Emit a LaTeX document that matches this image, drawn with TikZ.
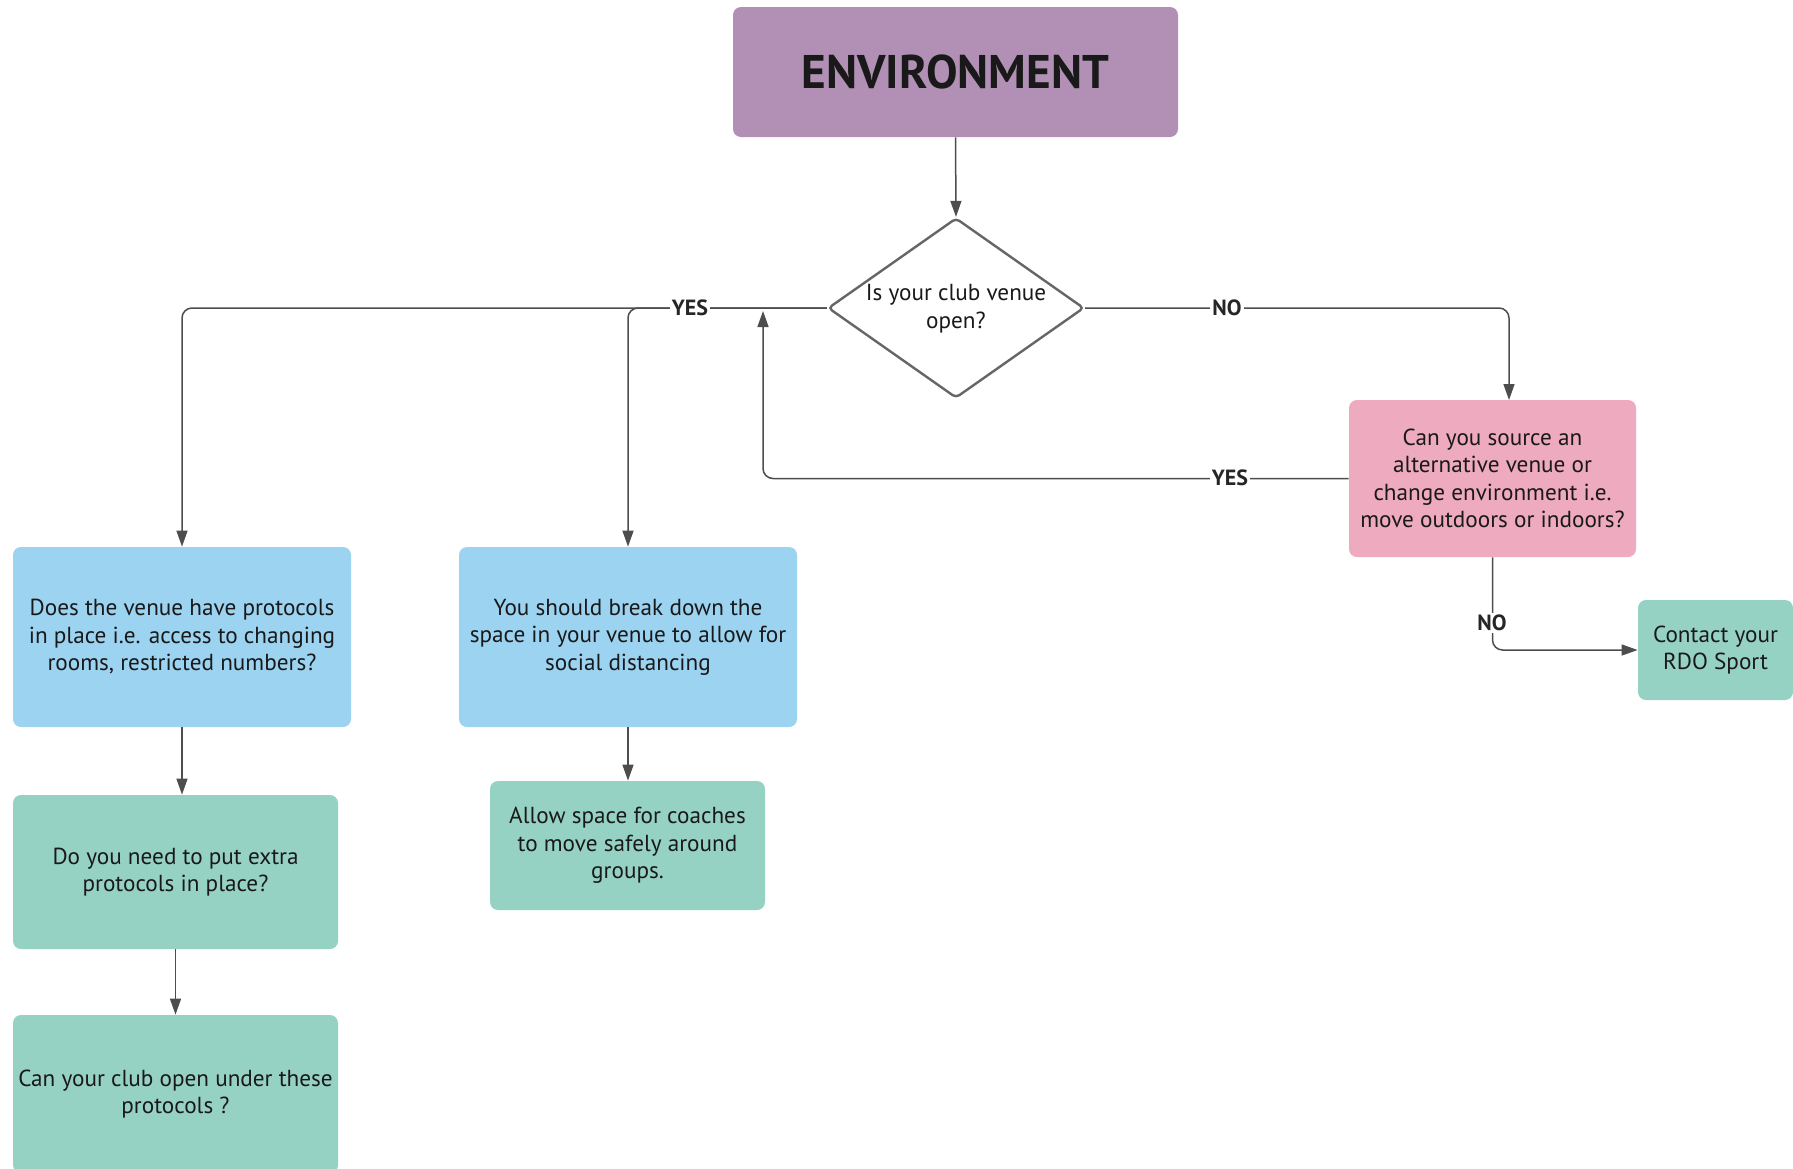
\documentclass[tikz,border=0pt]{standalone}
\usepackage{fontspec}
\setmainfont{PT Sans}
\usetikzlibrary{arrows.meta,shapes.geometric}
\definecolor{envpurple}{HTML}{B290B6}
\definecolor{qblue}{HTML}{9BD3F1}
\definecolor{qgreen}{HTML}{96D2C3}
\definecolor{qpink}{HTML}{EEAABE}
\definecolor{linegray}{HTML}{4D4D4D}
\definecolor{diagray}{HTML}{666666}
\begin{document}
\begin{tikzpicture}[x=0.5pt,y=-0.5pt,
  box/.style={rounded corners=4pt, inner sep=0pt, align=center, text=black!90,
    font=\fontsize{11.6}{13.75}\selectfont},
  conn/.style={draw=linegray, line width=0.75pt, rounded corners=5pt},
  arr/.style={-{Triangle[length=8pt,width=5.5pt]}},
  lab/.style={fill=white, inner sep=1pt, font=\bfseries\fontsize{11}{13}\selectfont, text=black!85}
]
\useasboundingbox (0,0) rectangle (1793,1168);
\fill[white] (0,0) rectangle (1793,1168);

% nodes
\node[box, fill=envpurple, minimum width=222.5pt, minimum height=65pt,
      font=\bfseries\fontsize{23.6}{28}\selectfont] (env) at (955.5,72) {ENVIRONMENT};
\node[draw=diagray, line width=1.2pt, shape=diamond, rounded corners=2pt, inner sep=0pt,
      minimum width=128pt, minimum height=90pt, aspect=1.42] (dia) at (956,308) {};
\node[box] (diatext) at (956,308.5) {Is your club venue\\open?};
\node[box, fill=qblue, minimum width=169pt, minimum height=90pt] (b1) at (182,637)
  {Does the venue have protocols\\in place i.e. access to changing\\rooms, restricted numbers?};
\node[box, fill=qblue, minimum width=169pt, minimum height=90pt] (b2) at (628,637)
  {You should break down the\\space in your venue to allow for\\social distancing};
\node[box, fill=qgreen, minimum width=162.5pt, minimum height=77pt] (g2) at (175.5,872)
  {Do you need to put extra\\protocols in place?};
\node[box, fill=qgreen, minimum width=162.5pt, minimum height=79pt] (g3) at (175.5,1094)
  {Can your club open under these\\protocols ?};
\node[box, fill=qgreen, minimum width=137.5pt, minimum height=64.5pt] (g4) at (627.5,845.5)
  {Allow space for coaches\\to move safely around\\groups.};
\node[box, fill=qpink, minimum width=143.5pt, minimum height=78.5pt] (pink) at (1492.5,478.5)
  {Can you source an\\alternative venue or\\change environment i.e.\\move outdoors or indoors?};
\node[box, fill=qgreen, minimum width=77.5pt, minimum height=50pt] (contact) at (1715.5,650)
  {Contact your\\RDO Sport};

% coordinates
\coordinate (ret) at (763,311);
\coordinate (noin) at (1509,400);

% connectors
\draw[conn, arr] (env.south) -- (dia.north);
\draw[conn, arr] (dia.west) -| (b1.north);
\draw[conn, arr] (dia.west) -| (b2.north);
\draw[conn, arr] (pink.west) -| (ret);
\draw[conn, arr] (dia.east) -| (noin);
\draw[conn, arr] (pink.south) |- (contact.west);
\draw[conn, arr] (b1.south) -- (b1.south |- g2.north);
\draw[conn, arr] (g2.south) -- (g3.north);
\draw[conn, arr] (b2.south) -- (b2.south |- g4.north);

% labels
\node[lab] (yes1) at (690,308) {YES};
\node[lab] (no1) at (1227,308) {NO};
\node[lab] (yes2) at (1230,478) {YES};
\node[lab] (no2) at (1492,623) {NO};
\end{tikzpicture}
\end{document}
